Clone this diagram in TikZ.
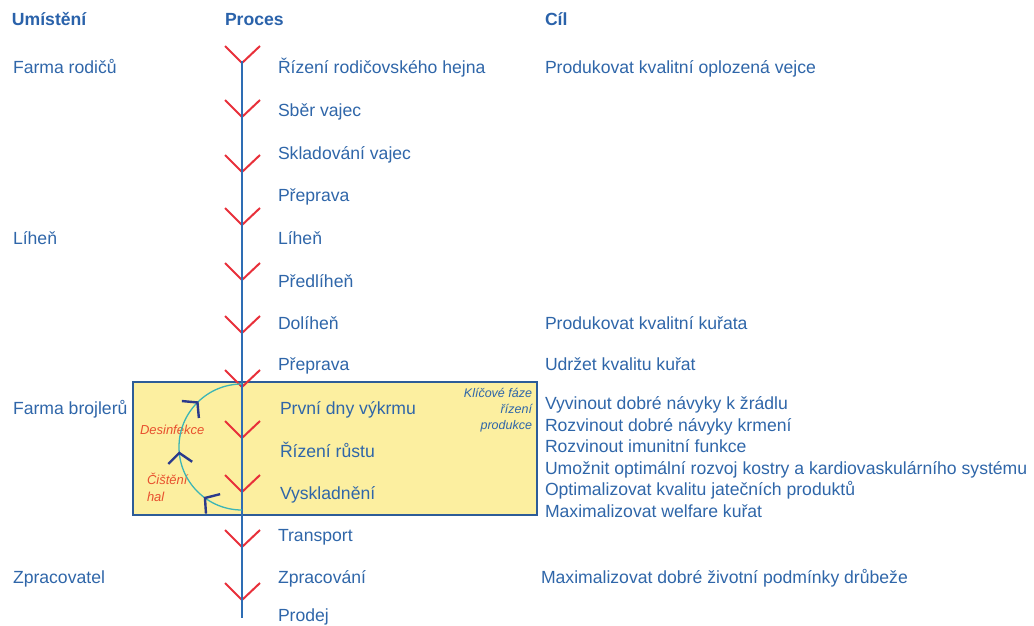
\documentclass[tikz,border=0pt]{standalone}
\usepackage{fontspec}
\setmainfont{Liberation Sans}
\usetikzlibrary{decorations.markings}
\definecolor{txt}{HTML}{2F66A9}
\definecolor{hdr}{HTML}{2A62AA}
\definecolor{chev}{HTML}{E8303A}
\definecolor{mainline}{HTML}{2E6DB4}
\definecolor{boxborder}{HTML}{2D5C98}
\definecolor{boxfill}{HTML}{FCEFA0}
\definecolor{cyc}{HTML}{3DB5B5}
\definecolor{cycarrow}{HTML}{2B3A8C}
\definecolor{redlbl}{HTML}{E8502E}
\begin{document}
\begin{tikzpicture}[x=1pt,y=-1pt,
  every node/.style={inner sep=0pt, outer sep=0pt},
  lbl/.style={anchor=base west, text=txt, font=\fontsize{17.6}{21}\selectfont},
  hd/.style={anchor=base west, text=hdr, font=\fontsize{17.6}{21}\selectfont\bfseries},
  chevron/.style={draw=chev, line width=2pt},
  cyclbl/.style={text=redlbl, font=\fontsize{13}{17}\selectfont\itshape},
  keylbl/.style={text=txt, font=\fontsize{12.5}{16}\selectfont\itshape},
  cycarr/.style={draw=cycarrow, line width=2.4pt}
]
\useasboundingbox (0,0) rectangle (1034,626);

% yellow box
\node[draw=boxborder, fill=boxfill, line width=2.5pt, minimum width=404pt, minimum height=133pt] (box) at (335,448.5) {};

% headers
\node[hd] (h1) at (12,26) {Umístění};
\node[hd] (h2) at (225,26) {Proces};
\node[hd] (h3) at (545,26) {Cíl};

% left column
\node[lbl] (l1) at (13,74) {Farma rodičů};
\node[lbl] (l2) at (13,244) {Líheň};
\node[lbl] (l3) at (13,414) {Farma brojlerů};
\node[lbl] (l4) at (13,583) {Zpracovatel};

% process column
\node[lbl] (p1) at (278,74) {Řízení rodičovského hejna};
\node[lbl] (p2) at (278,117) {Sběr vajec};
\node[lbl] (p3) at (278,159) {Skladování vajec};
\node[lbl] (p4) at (278,201) {Přeprava};
\node[lbl] (p5) at (278,244) {Líheň};
\node[lbl] (p6) at (278,287) {Předlíheň};
\node[lbl] (p7) at (278,329) {Dolíheň};
\node[lbl] (p8) at (278,370) {Přeprava};
\node[lbl] (p9) at (280,414) {První dny výkrmu};
\node[lbl] (p10) at (280,457) {Řízení růstu};
\node[lbl] (p11) at (280,499) {Vyskladnění};
\node[lbl] (p12) at (278,541) {Transport};
\node[lbl] (p13) at (278,583) {Zpracování};
\node[lbl] (p14) at (278,621) {Prodej};

% goal column
\node[lbl] (g1) at (545,74) {Produkovat kvalitní oplozená vejce};
\node[lbl] (g2) at (545,329) {Produkovat kvalitní kuřata};
\node[lbl] (g3) at (545,370) {Udržet kvalitu kuřat};
\node[lbl] (g4) at (545,409.5) {Vyvinout dobré návyky k žrádlu};
\node[lbl] (g5) at (545,431) {Rozvinout dobré návyky krmení};
\node[lbl] (g6) at (545,452.5) {Rozvinout imunitní funkce};
\node[lbl] (g7) at (545,474) {Umožnit optimální rozvoj kostry a kardiovaskulárního systému};
\node[lbl] (g8) at (545,495.5) {Optimalizovat kvalitu jatečních produktů};
\node[lbl] (g9) at (545,517) {Maximalizovat welfare kuřat};
\node[lbl] (g10) at (541,583) {Maximalizovat dobré životní podmínky drůbeže};

% key phase label
\node[keylbl, anchor=east, align=right] (key) at (532,410) {Klíčové fáze\\řízení\\produkce};

% cycle labels
\node[cyclbl, anchor=base west] (dez) at (140,434.5) {Desinfekce};
\node[cyclbl, anchor=west, align=left] (cist) at (147,487) {Čištění\\hal};

% red chevrons
\foreach \v in {63,117,172,225,280,333,387,438,492,547,600}
  \draw[chevron] (225,{\v-17}) -- (242,\v) -- (260,{\v-17});

% main process line
\coordinate (ltop) at (242,61);
\coordinate (lbot) at (242,618);
\draw[mainline, line width=2.8pt] (ltop) -- (lbot);

% cycle arc
\coordinate (cbot) at (242,510);
\draw[cyc, line width=1.3pt, postaction={decorate}, decoration={markings,
   mark=at position 0.2 with {\draw[cycarr] (-10pt,12pt) -- (0pt,0pt) -- (-10pt,-12pt);},
   mark=at position 0.47 with {\draw[cycarr] (-10pt,12pt) -- (0pt,0pt) -- (-10pt,-12pt);},
   mark=at position 0.75 with {\draw[cycarr] (-10pt,12pt) -- (0pt,0pt) -- (-10pt,-12pt);}}]
  (cbot) arc[start angle=270, end angle=90, radius=63pt];
\end{tikzpicture}
\end{document}
